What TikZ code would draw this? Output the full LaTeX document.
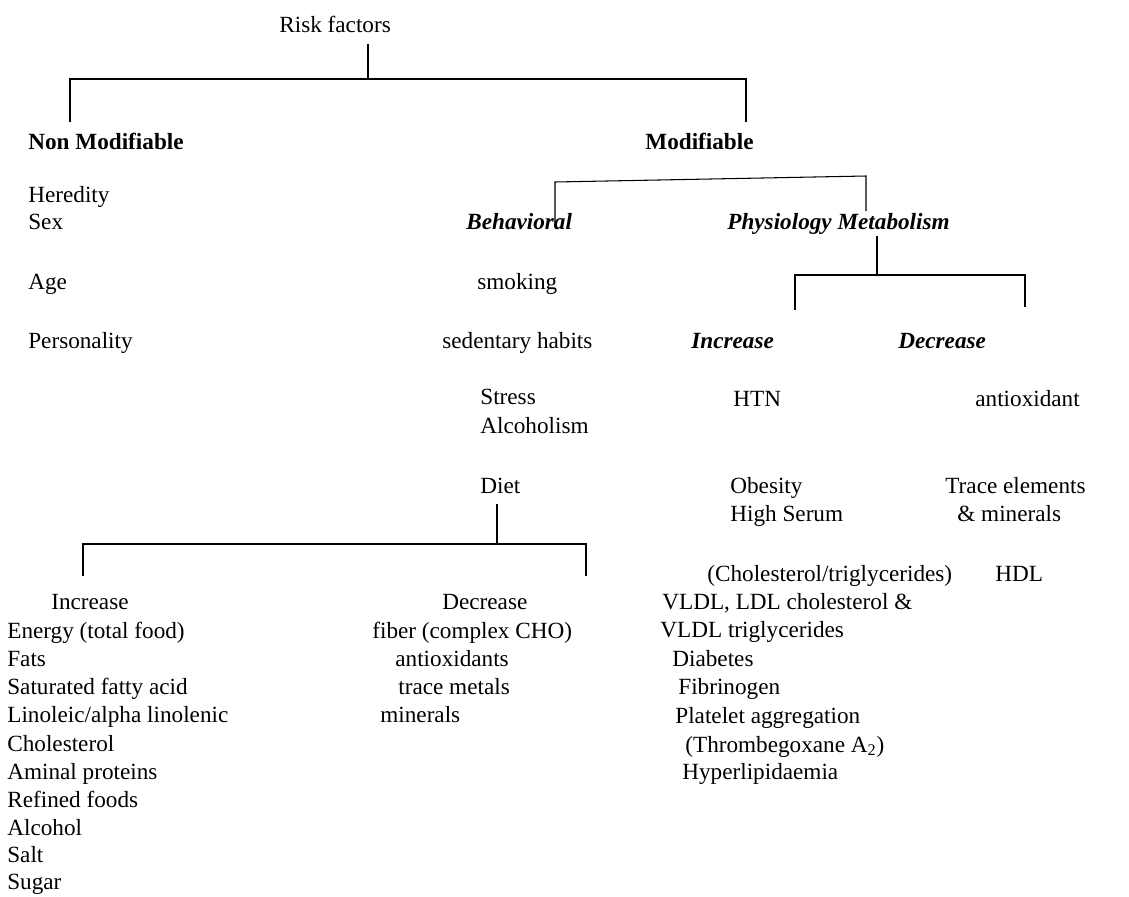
\documentclass[tikz,border=0pt]{standalone}
\usepackage{fontspec}
\setmainfont{Liberation Serif}
\usetikzlibrary{positioning, calc}

\tikzset{
  item/.style={anchor=base west, inner sep=0pt, font=\fontsize{13.2}{16}\selectfont},
  headitem/.style={item, font=\fontsize{13.2}{16}\selectfont\bfseries},
  subhead/.style={item, font=\fontsize{13.2}{16}\selectfont\bfseries\itshape},
  branch/.style={line width=0.6pt}
}

\begin{document}
\begin{tikzpicture}[x=0.2mm, y=-0.2mm]
      \useasboundingbox (0,0) rectangle (1129,896);

      % top level
      \node[item] (risk) at (279,32) {Risk factors};
      \node[headitem] (nonmod) at (28,149) {Non Modifiable};
      \node[headitem] (modif) at (645,149) {Modifiable};

      % non modifiable
      \node[item] (heredity) at (28,202) {Heredity};
      \node[item] (sex) at (28,229) {Sex};
      \node[item] (age) at (28,289) {Age};
      \node[item] (person) at (28,348) {Personality};

      % modifiable
      \node[subhead] (behav) at (466,229) {Behavioral};
      \node[subhead] (physio) at (727,229) {Physiology Metabolism};

      \node[item] (smoking) at (477,289) {smoking};
      \node[item] (sedentary) at (442,348) {sedentary habits};
      \node[item] (stress) at (480,404) {Stress};
      \node[item] (alcoholism) at (480,433) {Alcoholism};
      \node[item] (diet) at (480,493) {Diet};

      \node[subhead] (physInc) at (691,348) {Increase};
      \node[subhead] (physDec) at (898,348) {Decrease};

      \node[item] (htn) at (733,406) {HTN};
      \node[item] (obesity) at (730,493) {Obesity};
      \node[item] (highSerum) at (730,521) {High Serum};
      \node[item] (cholTri) at (707,581) {(Cholesterol/triglycerides)};
      \node[item] (vldlA) at (662,609) {VLDL, LDL cholesterol \&};
      \node[item] (vldlB) at (660,637) {VLDL triglycerides};
      \node[item] (diabetes) at (672,666) {Diabetes};
      \node[item] (fibrin) at (678,694) {Fibrinogen};
      \node[item] (platelet) at (675,723) {Platelet aggregation};
      \node[item] (thromb) at (685,752) {(Thrombegoxane A\textsubscript{2})};
      \node[item] (hyperlip) at (682,779) {Hyperlipidaemia};

      \node[item] (antiox) at (975,406) {antioxidant};
      \node[item] (traceEl) at (945,493) {Trace elements};
      \node[item] (traceMin) at (957,521) {\& minerals};
      \node[item] (hdl) at (995,581) {HDL};

      % diet
      \node[item] (dietInc) at (51,609) {Increase};
      \node[item] (energy) at (7,638) {Energy (total food)};
      \node[item] (fats) at (7,666) {Fats};
      \node[item] (satFat) at (7,694) {Saturated fatty acid};
      \node[item] (linol) at (7,722) {Linoleic/alpha linolenic};
      \node[item] (cholDiet) at (7,751) {Cholesterol};
      \node[item] (aminal) at (7,779) {Aminal proteins};
      \node[item] (refined) at (7,807) {Refined foods};
      \node[item] (alcohol) at (7,835) {Alcohol};
      \node[item] (salt) at (7,862) {Salt};
      \node[item] (sugar) at (7,889) {Sugar};

      \node[item] (dietDec) at (442,609) {Decrease};
      \node[item] (fiber) at (372,638) {fiber (complex CHO)};
      \node[item] (antioxD) at (395,666) {antioxidants};
      \node[item] (traceMet) at (398,694) {trace metals};
      \node[item] (mineralsD) at (380,722) {minerals};

      % brackets
      \coordinate (rfJoin) at (368,79);
      \coordinate (nmEnd) at (70,122);
      \coordinate (mEnd) at (746,122);
      \draw[branch, shorten <=2.2mm] (risk.south -| rfJoin) -- (rfJoin);
      \draw[branch] (nmEnd) |- (rfJoin) -| (mEnd);

      \coordinate (bhEnd) at (555,227);
      \coordinate (bhTop) at (555,182);
      \coordinate (pmTop) at (866,176);
      \coordinate (pmEnd) at (866,211);
      \draw[branch] (bhEnd) -- (bhTop) -- (pmTop) -- (pmEnd);

      \coordinate (pmJoin) at (877,275);
      \coordinate (incEnd) at (795,310);
      \coordinate (decEnd) at (1025,307);
      \draw[branch, shorten <=0.4mm] (physio.south -| pmJoin) -- (pmJoin);
      \draw[branch] (incEnd) |- (pmJoin) -| (decEnd);

      \coordinate (dietJoin) at (497,544);
      \coordinate (diEnd) at (83,576);
      \coordinate (ddEnd) at (586,576);
      \draw[branch, shorten <=2mm] (diet.south -| dietJoin) -- (dietJoin);
      \draw[branch] (diEnd) |- (dietJoin) -| (ddEnd);
    \end{tikzpicture}
\end{document}
